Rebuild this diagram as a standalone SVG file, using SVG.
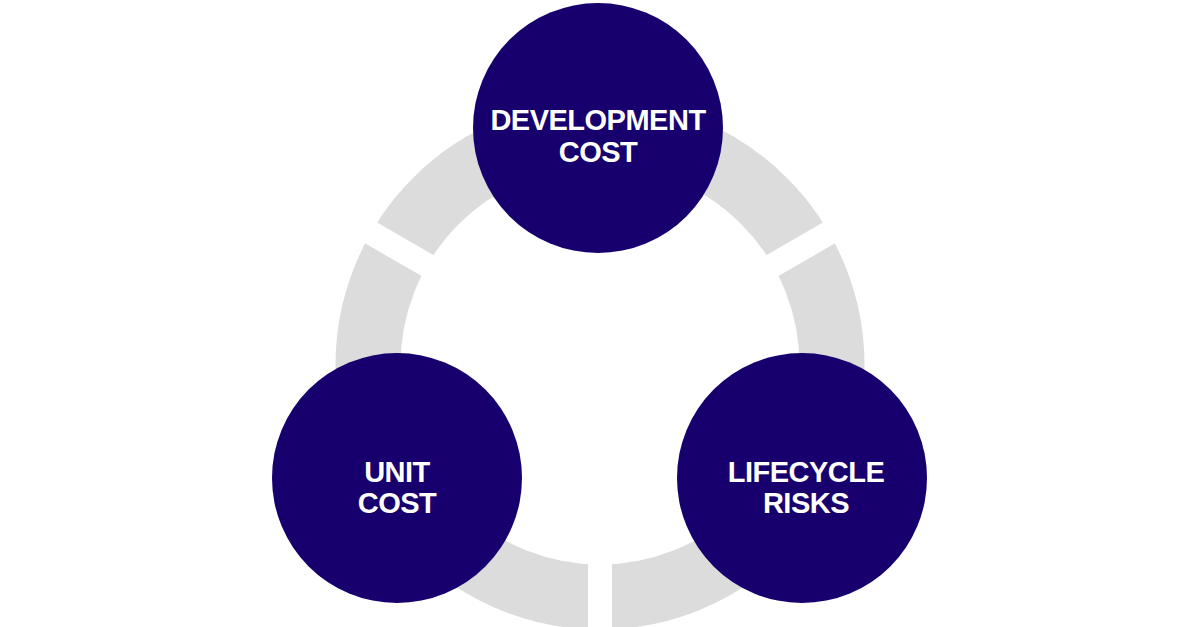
<svg xmlns="http://www.w3.org/2000/svg" width="1200" height="627" viewBox="0 0 1200 627">
<style>
.n{fill:#17006e}
.t{fill:#fff;font-family:"Liberation Sans",Arial,sans-serif;font-weight:bold;font-size:29px;text-anchor:middle;letter-spacing:-0.5px}
.gap{stroke:#fff;stroke-width:24}
</style>
<rect width="1200" height="627" fill="#fff"/>
<g id="connectors">
<circle cx="600" cy="365" r="232" fill="none" stroke="#dcdcdc" stroke-width="65"/>
<line class="gap" x1="600" y1="365" x2="600" y2="660"/>
<line class="gap" x1="600" y1="365" x2="340" y2="215"/>
<line class="gap" x1="600" y1="365" x2="860" y2="215"/>
</g>
<g id="dev"><circle class="n" cx="598" cy="128" r="125"/>
<text class="t" x="598" y="130">DEVELOPMENT</text><text class="t" x="598" y="162">COST</text></g>
<g id="unit"><circle class="n" cx="397" cy="478" r="125"/>
<text class="t" x="397" y="482">UNIT</text><text class="t" x="397" y="513">COST</text></g>
<g id="life"><circle class="n" cx="802" cy="478" r="125"/>
<text class="t" x="806" y="482">LIFECYCLE</text><text class="t" x="806" y="513">RISKS</text></g>
</svg>
